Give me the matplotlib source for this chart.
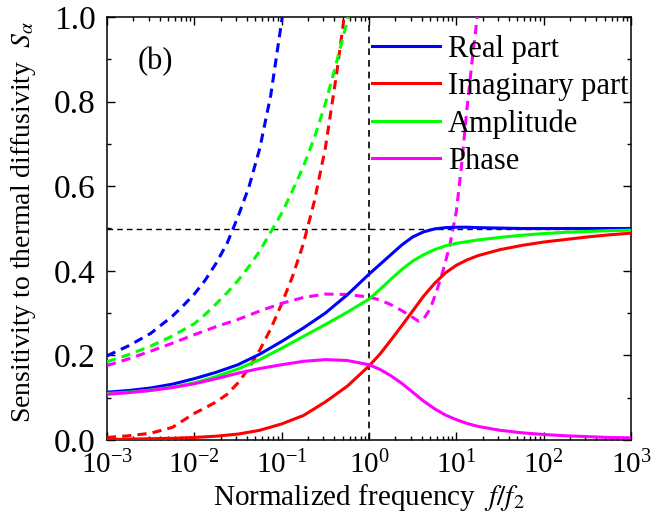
import numpy as np
import matplotlib
matplotlib.use("Agg")
import matplotlib.pyplot as plt
from matplotlib.ticker import LogLocator, MultipleLocator, FormatStrFormatter

plt.rcParams['font.family'] = ['Liberation Serif', 'DejaVu Serif']
plt.rcParams['mathtext.fontset'] = 'stix'

# ---- data (log10 of normalized frequency f/f2, sensitivity S_alpha) ----
logf_solid = [-3.0, -2.75, -2.5, -2.25, -2.0, -1.75, -1.5, -1.25, -1.0, -0.75, -0.5, -0.25,
              0.0, 0.125, 0.25, 0.375, 0.5, 0.625, 0.75, 0.875, 1.0, 1.125, 1.25, 1.5, 1.75,
              2.0, 2.25, 2.5, 2.75, 3.0]
real_solid = [0.113, 0.117, 0.123, 0.132, 0.145, 0.160, 0.178, 0.203, 0.233, 0.265, 0.300, 0.343,
              0.392, 0.415, 0.438, 0.461, 0.480, 0.492, 0.499, 0.502, 0.503, 0.503, 0.502, 0.501,
              0.500, 0.500, 0.500, 0.500, 0.500, 0.500]
imag_solid = [0.001, 0.002, 0.003, 0.004, 0.006, 0.009, 0.014, 0.023, 0.038, 0.058, 0.090, 0.127,
              0.175, 0.203, 0.236, 0.270, 0.305, 0.340, 0.370, 0.395, 0.413, 0.426, 0.436, 0.450,
              0.460, 0.468, 0.474, 0.480, 0.485, 0.489]
ampl_solid = [0.110, 0.113, 0.118, 0.125, 0.135, 0.150, 0.168, 0.190, 0.217, 0.245, 0.273, 0.302,
              0.333, 0.356, 0.380, 0.403, 0.423, 0.438, 0.450, 0.459, 0.465, 0.469, 0.473, 0.479,
              0.484, 0.488, 0.491, 0.493, 0.495, 0.496]
phase_solid = [0.108, 0.112, 0.117, 0.124, 0.133, 0.145, 0.158, 0.169, 0.178, 0.186, 0.190, 0.188,
               0.178, 0.167, 0.152, 0.134, 0.113, 0.092, 0.074, 0.059, 0.048, 0.039, 0.032, 0.023,
               0.017, 0.013, 0.010, 0.008, 0.006, 0.005]

logf_real_dash = [-3.0, -2.75, -2.5, -2.25, -2.125, -2.0, -1.875, -1.75, -1.625, -1.5, -1.375,
                  -1.25, -1.125, -1.0, -0.99]
real_dash = [0.199, 0.223, 0.252, 0.293, 0.318, 0.345, 0.378, 0.418, 0.465, 0.528, 0.598,
             0.690, 0.815, 0.990, 1.01]

logf_imag_dash = [-3.0, -2.75, -2.5, -2.25, -2.0, -1.875, -1.75, -1.625, -1.5, -1.375, -1.25,
                  -1.125, -1.0, -0.875, -0.75, -0.625, -0.5, -0.375, -0.3, -0.28]
imag_dash = [0.006, 0.010, 0.016, 0.030, 0.063, 0.076, 0.090, 0.108, 0.135, 0.170, 0.213,
             0.263, 0.322, 0.387, 0.465, 0.565, 0.690, 0.860, 0.975, 1.01]

logf_ampl_dash = [-3.0, -2.75, -2.5, -2.25, -2.0, -1.875, -1.75, -1.625, -1.5, -1.375, -1.25,
                  -1.125, -1.0, -0.875, -0.75, -0.625, -0.5, -0.375, -0.25, -0.23]
ampl_dash = [0.185, 0.202, 0.222, 0.246, 0.275, 0.297, 0.322, 0.348, 0.377, 0.410, 0.447,
             0.492, 0.536, 0.590, 0.647, 0.715, 0.795, 0.890, 0.990, 1.01]

logf_phase_dash = [-3.0, -2.75, -2.5, -2.25, -2.0, -1.75, -1.5, -1.25, -1.0, -0.75, -0.5, -0.25,
                   0.0, 0.125, 0.25, 0.375, 0.5, 0.565, 0.625, 0.7, 0.775, 0.85, 0.925, 1.0,
                   1.06, 1.12, 1.18, 1.245]
phase_dash = [0.176, 0.192, 0.210, 0.229, 0.249, 0.268, 0.285, 0.305, 0.323, 0.337, 0.345, 0.344,
              0.338, 0.331, 0.320, 0.306, 0.290, 0.281, 0.286, 0.310, 0.352, 0.402, 0.460, 0.540,
              0.650, 0.780, 0.895, 1.01]

labels = ["Real part", "Imaginary part", "Amplitude", "Phase"]
colors = ["#0000FF", "#FF0000", "#00FF00", "#FF00FF"]

fig = plt.figure(figsize=(6.64, 5.26), dpi=100)
ax = fig.add_axes([107/664, 1 - 440/526, 524/664, 423/526])

def F(lf):
    return 10.0 ** np.asarray(lf)

lw = 2.2
solids = [real_solid, imag_solid, ampl_solid, phase_solid]
dashes = [(logf_real_dash, real_dash), (logf_imag_dash, imag_dash),
          (logf_ampl_dash, ampl_dash), (logf_phase_dash, phase_dash)]

for (lf, v), c in zip(dashes, colors):
    ax.plot(F(lf), v, color=c, lw=lw, linestyle=(0, (3.0, 2.0)), zorder=3)
for v, c, lab in zip(solids, colors, labels):
    ax.plot(F(logf_solid), v, color=c, lw=lw, label=lab, zorder=4)

ax.axhline(0.5, color='black', lw=1.0, linestyle=(0, (4, 3)), zorder=2)
ax.axvline(1.0, color='black', lw=1.2, linestyle=(0, (4, 3)), zorder=2)

ax.set_xscale('log')
ax.set_xlim(1e-3, 1e3)
ax.set_ylim(0.0, 1.0)
ax.xaxis.set_major_locator(LogLocator(base=10, numticks=10))
ax.xaxis.set_minor_locator(LogLocator(base=10, subs=np.arange(2, 10), numticks=20))
ax.yaxis.set_major_locator(MultipleLocator(0.2))
ax.yaxis.set_minor_locator(MultipleLocator(0.1))
ax.yaxis.set_major_formatter(FormatStrFormatter('%.1f'))

ax.tick_params(which='both', direction='in', top=True, right=True, width=1.0)
ax.tick_params(axis='y', which='major', labelsize=24, pad=8)
ax.tick_params(axis='x', which='major', labelsize=21, pad=8)
ax.tick_params(which='major', length=6)
ax.tick_params(which='minor', length=3)
for s in ax.spines.values():
    s.set_linewidth(1.1)

ax.set_xlabel("Normalized frequency  $f/f_2$", fontsize=21, labelpad=2)
ax.set_ylabel(r"Sensitivity to thermal diffusivity  $S_\alpha$", fontsize=20)
ax.yaxis.set_label_coords(-0.132, 0.515)

ax.text(0.092, 0.894, "(b)", transform=ax.transAxes, fontsize=22, ha='center', va='center')

ax.legend(loc='upper left', bbox_to_anchor=(0.506, 0.958), frameon=False, fontsize=22,
          handlelength=2.22, handletextpad=0.26, labelspacing=0.27, borderpad=0, borderaxespad=0)

fig.savefig("out.png", dpi=100)
